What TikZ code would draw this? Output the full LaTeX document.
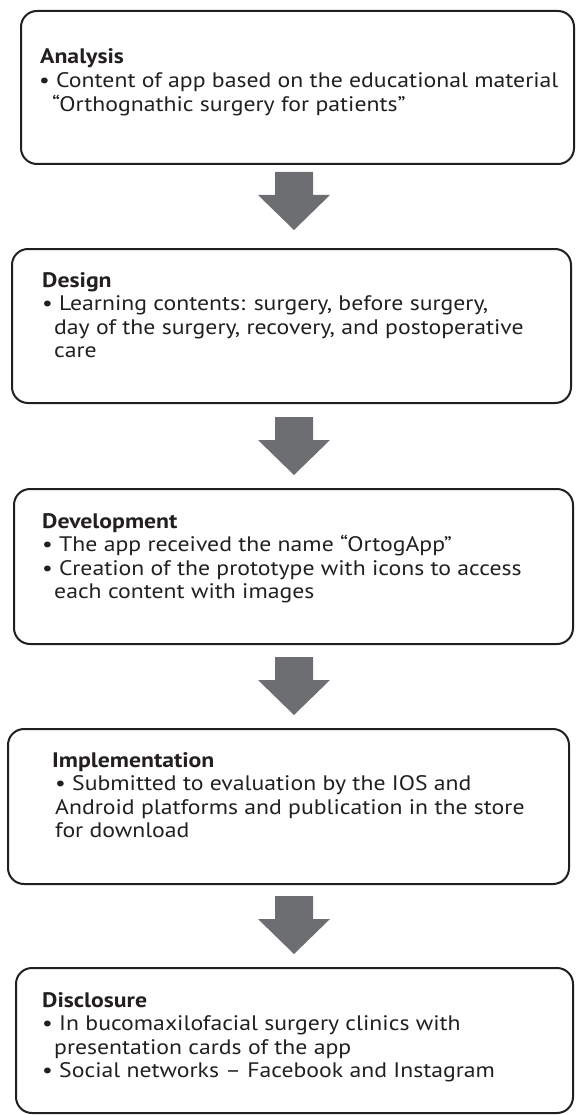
\documentclass[tikz,border=0pt]{standalone}
\usepackage{fontspec}
\setmainfont[FakeStretch=1.13]{PT Sans}
\definecolor{boxline}{HTML}{231F20}
\definecolor{textcol}{HTML}{231F20}
\definecolor{arrowgray}{HTML}{6D6E71}
\tikzset{
  box/.style={draw=boxline, line width=2pt, rounded corners=16pt, inner sep=0pt, anchor=north west},
  txt/.style={anchor=base west, inner sep=0pt, text=textcol, font=\fontsize{21}{23}\selectfont},
  headtxt/.style={txt, font=\fontsize{21}{23}\selectfont\bfseries},
  blockarrow/.style={fill=arrowgray}
}
\newcommand\blockarr[1]{\fill[blockarrow] (#1) ++(-19,0) -- ++(38,0) -- ++(0,23) -- ++(17,0) -- ++(-36,35) -- ++(-36,-35) -- ++(17,0) -- cycle;}
\newcommand\bul{\textbullet\ }
\begin{document}
\begin{tikzpicture}[x=1pt,y=-1pt]
\useasboundingbox (0,0) rectangle (575,1115);
% boxes
\node[box, minimum width=553pt, minimum height=153pt] (b1) at (20,10) {};
\node[box, minimum width=559pt, minimum height=154pt] (b2) at (11,248) {};
\node[box, minimum width=559pt, minimum height=155pt] (b3) at (13,488) {};
\node[box, minimum width=561pt, minimum height=155pt] (b4) at (7,728) {};
\node[box, minimum width=557pt, minimum height=145pt] (b5) at (15,967) {};
% arrows
\coordinate (a1) at (294,172);
\coordinate (a2) at (294,417);
\coordinate (a3) at (294,657);
\coordinate (a4) at (294,896);
\blockarr{a1}
\blockarr{a2}
\blockarr{a3}
\blockarr{a4}
% texts box 1
\node[headtxt] (t1h) at (40,64) {Analysis};
\node[txt] (t1a) at (39,88) {\bul Content of app based on the educational material};
\node[txt] (t1b) at (52,112) {“Orthognathic surgery for patients”};
% box 2
\node[headtxt] (t2h) at (42,287) {Design};
\node[txt] (t2a) at (42,310.5) {\bul Learning contents: surgery, before surgery,};
\node[txt] (t2b) at (54,334) {day of the surgery, recovery, and postoperative};
\node[txt] (t2c) at (54,357.5) {care};
% box 3
\node[headtxt] (t3h) at (42,528) {Development};
\node[txt] (t3a) at (42,551.5) {\bul The app received the name “OrtogApp”};
\node[txt] (t3b) at (42,575) {\bul Creation of the prototype with icons to access};
\node[txt] (t3c) at (54,598.5) {each content with images};
% box 4
\node[headtxt] (t4h) at (52,767) {Implementation};
\node[txt] (t4a) at (55,790.5) {\bul Submitted to evaluation by the IOS and};
\node[txt] (t4b) at (55,814) {Android platforms and publication in the store};
\node[txt] (t4c) at (55,837.5) {for download};
% box 5
\node[headtxt] (t5h) at (42,1007) {Disclosure};
\node[txt] (t5a) at (42,1030.5) {\bul In bucomaxilofacial surgery clinics with};
\node[txt] (t5b) at (54,1054) {presentation cards of the app};
\node[txt] (t5c) at (42,1077.5) {\bul Social networks -- Facebook and Instagram};
\end{tikzpicture}
\end{document}
